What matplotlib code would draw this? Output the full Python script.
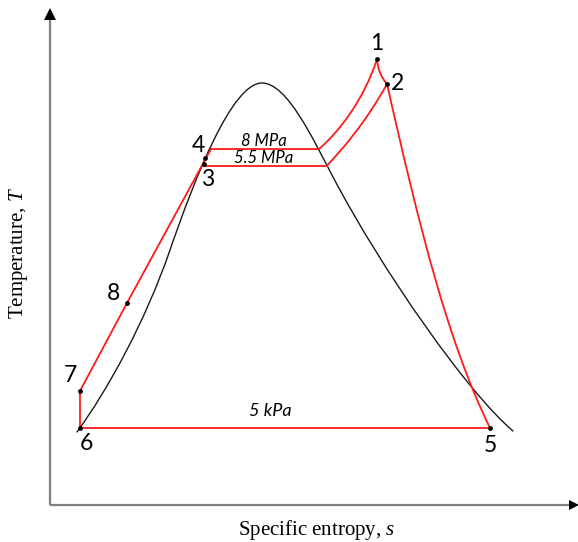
import matplotlib
matplotlib.use("Agg")
import matplotlib.pyplot as plt
from matplotlib.path import Path
from matplotlib.patches import PathPatch

plt.rcParams["mathtext.fontset"] = "custom"
plt.rcParams["mathtext.rm"] = "Liberation Serif"
plt.rcParams["mathtext.it"] = "Liberation Serif:italic"

# ---- data (arbitrary s, T units) ----
# saturation dome as cubic Bezier segments (anchor, ctrl, ctrl, anchor, ...)
dome_s = [27, 57, 95, 120, 145, 182, 212, 237, 263, 283, 333, 418, 463]
dome_T = [73, 114, 182.5, 255, 327.5, 422, 422, 422, 366, 328, 233, 112, 74]

# state points
state_labels = ["1", "2", "3", "4", "5", "6", "7", "8"]
state_s = [327, 337, 154, 155, 440, 30, 30, 77]
state_T = [446, 421, 341, 347, 77, 77, 114, 202]

# pump / compressed-liquid line 6 -> 7 -> 8 -> top of 8 MPa line
pump_s = [30, 30, 77, 161]
pump_T = [77, 114, 202, 356]

# isobar levels
p_high_T, p_high_s0, p_high_s1 = 356, 161, 269   # 8 MPa
p_mid_T, p_mid_s0, p_mid_s1 = 339.5, 152, 277    # 5.5 MPa
p_low_T = 77                                     # 5 kPa

# superheat curves (Bezier control points)
sh_high_s = [269, 288, 314, 327]
sh_high_T = [356, 372, 405, 446]
sh_mid_s = [277, 292, 316, 337]
sh_mid_T = [339.5, 355, 383, 421]
c12_s = [327, 328, 337]
c12_T = [446, 431, 421]

# expansion 2 -> 5 (cubic Bezier)
exp_s = [337, 370, 398, 440]
exp_T = [421, 275, 163, 77]

RED = "#ff1a1a"
LW = 1.3

fig = plt.figure(figsize=(5.78, 5.42), dpi=100)
ax = fig.add_axes([0, 0, 1, 1])
ax.set_xlim(-50, 528)
ax.set_ylim(-37, 505)
ax.axis("off")

# axes with arrows
ax.plot([0, 522], [0, 0], color="#808080", lw=1.6, solid_capstyle="butt")
ax.plot([0, 0], [0, 490], color="#808080", lw=1.6, solid_capstyle="butt")
ax.plot([524], [0], marker=">", color="black", ms=7, mew=0)
ax.plot([0], [491], marker="^", color="black", ms=8, mew=0)


def bezier_patch(xs, ys, order, color, lw):
    pts = list(zip(xs, ys))
    code = Path.CURVE4 if order == 3 else Path.CURVE3
    codes = [Path.MOVETO] + [code] * (len(pts) - 1)
    ax.add_patch(PathPatch(Path(pts, codes), fill=False, edgecolor=color,
                           lw=lw, zorder=3, capstyle="round"))


# saturation dome
bezier_patch(dome_s, dome_T, 3, "#1a1a1a", 1.0)

# cycle lines
ax.plot(pump_s, pump_T, color=RED, lw=LW, zorder=3)
ax.plot([p_high_s0, p_high_s1], [p_high_T, p_high_T], color=RED, lw=LW, zorder=3)
ax.plot([p_mid_s0, p_mid_s1], [p_mid_T, p_mid_T], color=RED, lw=LW, zorder=3)
ax.plot([state_s[5], state_s[4]], [p_low_T, p_low_T], color=RED, lw=LW, zorder=3)
bezier_patch(sh_high_s, sh_high_T, 3, RED, LW)
bezier_patch(sh_mid_s, sh_mid_T, 3, RED, LW)
bezier_patch(c12_s, c12_T, 2, RED, LW)
bezier_patch(exp_s, exp_T, 3, RED, LW)

# state dots
ax.scatter(state_s, state_T, s=6, color="black", zorder=5)

# state labels
label_off = {"1": (0, 16), "2": (10, 0), "3": (4, -16), "4": (-7, 12),
             "5": (0, -17), "6": (6, -15), "7": (-10, 15), "8": (-13, 9)}
for lab, s, T in zip(state_labels, state_s, state_T):
    dx, dy = label_off[lab]
    ax.text(s + dx, T + dy, lab, fontsize=16.5, family="Lato",
            ha="center", va="center", color="black")

# pressure labels
ax.text(214, 364, "8 MPa", fontsize=12, family="Lato", style="italic",
        ha="center", va="center")
ax.text(214, 347, "5.5 MPa", fontsize=12, family="Lato", style="italic",
        ha="center", va="center")
ax.text(220, 94, "5 kPa", fontsize=13, family="Lato", style="italic",
        ha="center", va="center")

# axis titles
ax.text(267, -25, "Specific entropy, $\\mathit{s}$", fontsize=15,
        family="Liberation Serif", ha="center", va="center")
ax.text(-32, 252, "Temperature, $\\mathit{T}$", fontsize=15,
        family="Liberation Serif", ha="center", va="center", rotation=90)

fig.savefig("out.png", dpi=100)
